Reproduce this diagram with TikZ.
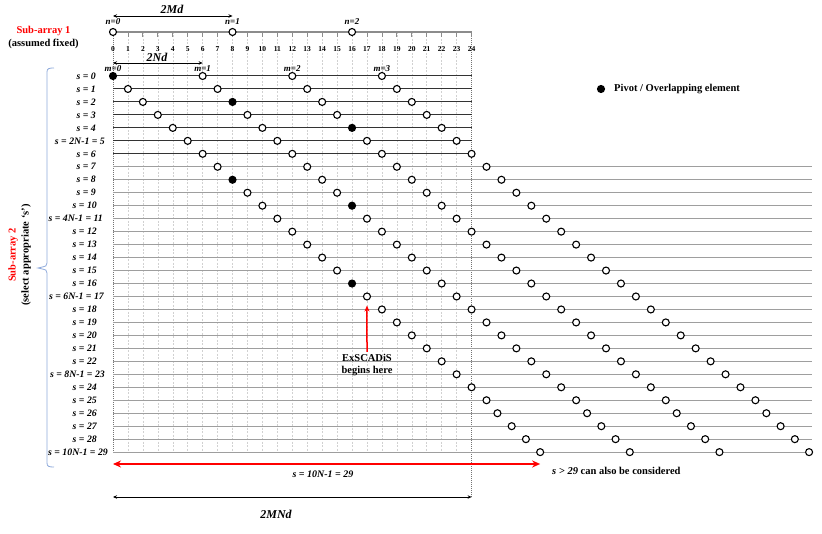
\documentclass[tikz,border=0pt]{standalone}
\usepackage{fontspec}
\setmainfont{Liberation Serif}
\usetikzlibrary{arrows.meta}
\definecolor{bracecol}{HTML}{8EA9DB}
\definecolor{redc}{HTML}{FF0000}
\begin{document}
\begin{tikzpicture}[x=1pt,y=-1pt,
  gridl/.style={draw=black!18,line width=0.5pt,dash pattern=on 2pt off 1.5pt},
  darkgrid/.style={draw=black!55,line width=0.5pt,dash pattern=on 1pt off 1pt},
  axisl/.style={draw=black!45,line width=1.6pt},
  tickl/.style={draw=black!45,line width=0.8pt},
  rowdark/.style={draw=black!80,line width=1pt},
  rowgray/.style={draw=black!38,line width=1pt},
  opn/.style={circle,draw=black,fill=white,line width=1.1pt,minimum size=7pt,inner sep=0pt},
  pivot/.style={circle,draw=black,fill=black,line width=1.1pt,minimum size=7pt,inner sep=0pt},
  numl/.style={font=\bfseries\fontsize{7.5}{8}\selectfont,inner sep=0pt},
  idxl/.style={font=\bfseries\itshape\fontsize{9}{10}\selectfont,inner sep=0pt},
  rowl/.style={font=\bfseries\itshape\fontsize{9.8}{10}\selectfont,inner sep=0pt,anchor=east},
  dimarr/.style={draw=black,line width=0.8pt,{Stealth[length=4pt,width=3.5pt]}-{Stealth[length=4pt,width=3.5pt]}},
  diml/.style={font=\bfseries\itshape\fontsize{12}{13}\selectfont,inner sep=0pt},
  redarr/.style={draw=redc,line width=2pt,{Stealth[length=8pt,width=7pt]}-{Stealth[length=8pt,width=7pt]}},
  txtl/.style={font=\bfseries\fontsize{10.5}{12}\selectfont,inner sep=0pt}]
\useasboundingbox (0,0) rectangle (822,534);
% vertical grid
\foreach \i in {1,...,23}{
  \draw[gridl] ({113+14.94*\i},32) -- ({113+14.94*\i},452);
}
\coordinate (g0t) at (113,32);
\coordinate (g0b) at (113,452);
\coordinate (g24t) at (471.6,32);
\coordinate (g24b) at (471.6,497);
\draw[darkgrid] (g0t) -- (g0b);
\draw[darkgrid] (g24t) -- (g24b);
% sub-array 1 axis
\draw[axisl] (g0t) -- (g24t);
\foreach \i in {0,...,24}{
  \draw[tickl] ({113+14.94*\i},32) -- ({113+14.94*\i},37.5);
  \node[numl] at ({113+14.94*\i},49) {\i};
}
\foreach \n in {0,1,2}{
  \node[opn] (n\n) at ({113+14.94*8*\n},32) {};
  \node[idxl] at ({113+14.94*8*\n},22) {n=\n};
}
% 2Md
\draw[dimarr] (113,16) -- (n1 |- 0,16);
\node[diml] at (172,9) {2Md};
% 2Nd
\draw[dimarr] (113,63) -- ({113+14.94*6},63);
\node[diml] at (157,57) {2Nd};
\foreach \m in {0,1,2,3}{
  \node[idxl] at ({113+14.94*6*\m},68.5) {m=\m};
}
% rows
\foreach \s in {0,...,29}{
  \pgfmathsetmacro\y{76+12.97*\s}
  \pgfmathsetmacro\off{(\s>25)*(-4-(\s-26)*0.7)}
  \coordinate (rs\s) at (113,\y);
  \ifnum\s<7
    \coordinate (re\s) at (471.6,\y);
    \draw[rowdark] (rs\s) -- (re\s);
  \else
    \coordinate (re\s) at (812,\y);
    \draw[rowgray] (rs\s) -- (re\s);
  \fi
  \foreach \k in {0,1,2,3}{
    \pgfmathtruncatemacro\p{\s+6*\k}
    \pgfmathsetmacro\xx{113+14.94*\p+\off}
    \pgfmathtruncatemacro\fil{(\p==0)||(\p==8)||(\p==16)}
    \ifnum\fil=1
      \node[pivot] (c\s-\k) at (\xx,\y) {};
    \else
      \node[opn] (c\s-\k) at (\xx,\y) {};
    \fi
  }
}
% row labels
\foreach \s in {0,1,2,3,4,6,7,8,9}{
  \node[rowl] at (96,{76+12.97*\s}) {s = \s};
}
\foreach \s in {10,12,13,14,15,16,18,19,20,21,22,24,25,26,27,28}{
  \node[rowl] at (97,{76+12.97*\s}) {s = \s};
}
\node[rowl] at (105,{76+12.97*5}) {s = 2N-1 = 5};
\node[rowl] at (103,{76+12.97*11}) {s = 4N-1 = 11};
\node[rowl] at (104,{76+12.97*17}) {s = 6N-1 = 17};
\node[rowl] at (105,{76+12.97*23}) {s = 8N-1 = 23};
\node[rowl] at (108,{76+12.97*29}) {s = 10N-1 = 29};
% brace
\draw[bracecol,line width=0.8pt] (54,68) .. controls (49,68) and (47,68.5) .. (47,72) -- (47,263)
  .. controls (47,266) .. (38,268) .. controls (47,270) .. (47,273) -- (47,463)
  .. controls (47,466.5) and (49,467) .. (54,467);
% side labels
\node[txtl,text=redc] at (43.5,31) {Sub-array 1};
\node[txtl] at (43.5,43.5) {(assumed fixed)};
\node[txtl,text=redc,rotate=90] at (13,255) {Sub-array 2};
\node[txtl,rotate=90] at (26,255) {(select appropriate ‘s’)};
% legend
\node[pivot] (lg) at (601,89) {};
\node[txtl,anchor=west] (lgt) at (614,89.5) {Pivot / Overlapping element};
% ExSCADiS
\node[txtl,align=center] (ex) at (367,365) {ExSCADiS\\begins here};
\draw[draw=redc,line width=1.5pt,-{Stealth[length=6pt,width=5pt]}] ([yshift=2pt]ex.north) -- ([yshift=-5pt]c17-0.south);
% red span
\coordinate (ra) at (113,464);
\draw[redarr] (ra) -- (ra -| c29-0);
\node[font=\bfseries\itshape\fontsize{10}{11}\selectfont,inner sep=0pt] at (323,474) {s = 10N-1 = 29};
\node[anchor=west,inner sep=0pt,font=\bfseries\fontsize{10.5}{11}\selectfont] at (552,471) {\textit{s > 29} can also be considered};
% 2MNd
\coordinate (b0) at (113,497);
\draw[dimarr] (b0) -- (g24b);
\node[diml] at (276,514) {2MNd};
\end{tikzpicture}
\end{document}
